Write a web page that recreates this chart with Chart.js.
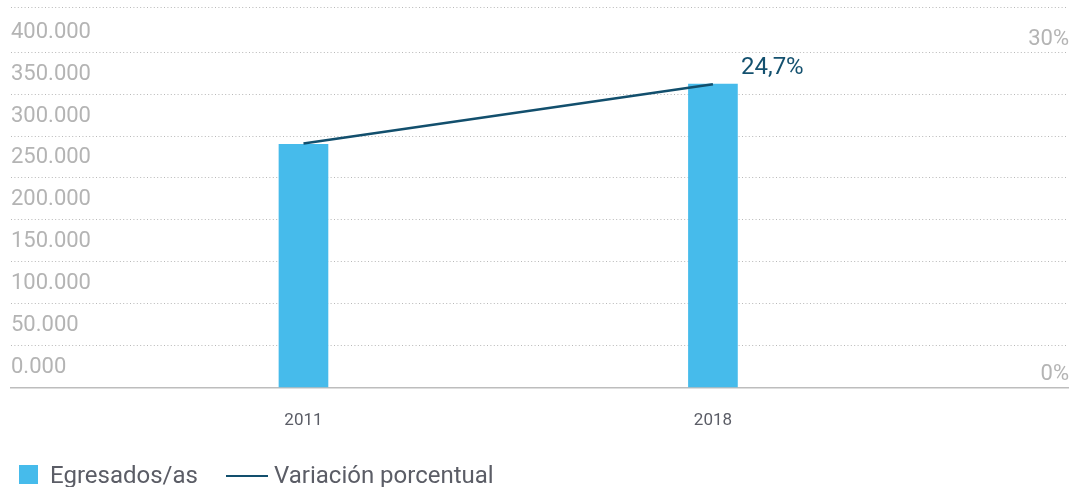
<!DOCTYPE html>
<html>
<head>
<meta charset="utf-8">
<script src="https://cdn.jsdelivr.net/npm/chart.js@4/dist/chart.umd.min.js"></script>
<style>
  body { margin: 0; background: #fff; }
  #box { width: 1070px; height: 487px; }
</style>
</head>
<body>
<div id="box"><canvas id="chart" width="1070" height="487"></canvas></div>
<script>
// data
let years = [2011, 2018]
let egresados = [290000, 362000]
let variacionLine = [291000, 361700]
let variacionLabel = '24,7%'
let leftTicks = [0, 50000, 100000, 150000, 200000, 250000, 300000, 350000, 400000]
let rightTicks = [0, 30]

let color_bar_blue = '#46bbeb'
let color_line_navy = '#124f6d'
let color_tick_grey = '#b4b4b4'
let color_text_dark = '#5b5d66'

// label next to last point of the line
let pctLabelPlugin = {
    id: 'pctLabel',
    afterDatasetsDraw(chart) {
        let meta = chart.getDatasetMeta(1)
        let pt = meta.data[meta.data.length - 1]
        let ctx = chart.ctx
        ctx.save()
        ctx.font = '24px Roboto'
        ctx.fillStyle = '#14516f'
        ctx.textAlign = 'left'
        ctx.textBaseline = 'middle'
        ctx.fillText(variacionLabel, pt.x + 28, pt.y - 16)
        ctx.restore()
    }
}

// legend at the bottom: square for bars, short stroke for the line
let bottomLegendPlugin = {
    id: 'bottomLegend',
    afterDraw(chart) {
        let ctx = chart.ctx
        let ds = chart.data.datasets
        ctx.save()
        ctx.font = '24px Roboto'
        ctx.fillStyle = ds[0].backgroundColor
        ctx.fillRect(19, 465, 19, 19)
        ctx.fillStyle = color_text_dark
        ctx.textBaseline = 'alphabetic'
        ctx.fillText(ds[0].label, 50, 483)
        ctx.strokeStyle = ds[1].borderColor
        ctx.lineWidth = 2
        ctx.beginPath()
        ctx.moveTo(226, 476)
        ctx.lineTo(268, 476)
        ctx.stroke()
        ctx.fillStyle = color_text_dark
        ctx.fillText(ds[1].label, 274, 483)
        ctx.restore()
    }
}

// keep the y axes from pushing the plot area in for their labels
let noVertPadding = function (s) {
    s.paddingTop = 0
    s.paddingBottom = 0
}

let chartDraw = function () {
    let ctx = document.getElementById('chart').getContext('2d')
    let leftMax = 453900
    let rightMax = 34.04

    window.myChart = new Chart(ctx, {
        type: 'bar',
        data: {
            datasets: [{
                type: 'bar',
                label: 'Egresados/as',
                data: years.map((y, i) => ({ x: y, y: egresados[i] })),
                backgroundColor: color_bar_blue,
                barThickness: 49,
                yAxisID: 'y',
                order: 2
            }, {
                type: 'line',
                label: 'Variación porcentual',
                data: years.map((y, i) => ({ x: y, y: variacionLine[i] })),
                borderColor: color_line_navy,
                borderWidth: 2.5,
                pointRadius: 0,
                fill: false,
                yAxisID: 'y',
                order: 1
            }]
        },
        options: {
            responsive: false,
            animation: false,
            layout: { padding: { left: 11, right: 0, top: 7, bottom: 33 } },
            plugins: {
                legend: { display: false },
                tooltip: { enabled: false }
            },
            scales: {
                x: {
                    type: 'linear',
                    offset: false,
                    min: 2006,
                    max: 2024.07,
                    afterBuildTicks: (s) => { s.ticks = years.map(v => ({ value: v })) },
                    grid: { display: false, drawTicks: false, offset: false },
                    border: { display: true, color: '#bdbdbd', width: 1.5 },
                    ticks: {
                        padding: 23,
                        maxRotation: 0,
                        color: color_text_dark,
                        font: { family: 'Roboto', size: 17 },
                        callback: (v) => String(v)
                    }
                },
                y: {
                    position: 'left',
                    min: 0,
                    max: leftMax,
                    afterBuildTicks: (s) => { s.ticks = leftTicks.concat([leftMax]).map(v => ({ value: v })) },
                    afterFit: noVertPadding,
                    grid: {
                        drawTicks: false,
                        color: (c) => c.tick && c.tick.value === 0 ? 'rgba(0,0,0,0)' : '#b8b8b8',
                        lineWidth: 1
                    },
                    border: { display: false, dash: [1, 2.4] },
                    ticks: {
                        mirror: true,
                        padding: 0,
                        labelOffset: -20,
                        color: color_tick_grey,
                        font: { family: 'Roboto', size: 22 },
                        callback: (v) => v > 400000 ? '' : (v / 1000).toFixed(0) + '.000'
                    }
                },
                y1: {
                    position: 'right',
                    min: 0,
                    max: rightMax,
                    afterBuildTicks: (s) => { s.ticks = rightTicks.map(v => ({ value: v })) },
                    afterFit: noVertPadding,
                    grid: { display: false, drawTicks: false },
                    border: { display: false },
                    ticks: {
                        mirror: true,
                        padding: 1,
                        labelOffset: -13,
                        color: color_tick_grey,
                        font: { family: 'Roboto', size: 22 },
                        callback: (v) => v + '%'
                    }
                }
            }
        },
        plugins: [pctLabelPlugin, bottomLegendPlugin]
    })
}

window.addEventListener('load', function () {
    chartDraw()
})
</script>
</body>
</html>
